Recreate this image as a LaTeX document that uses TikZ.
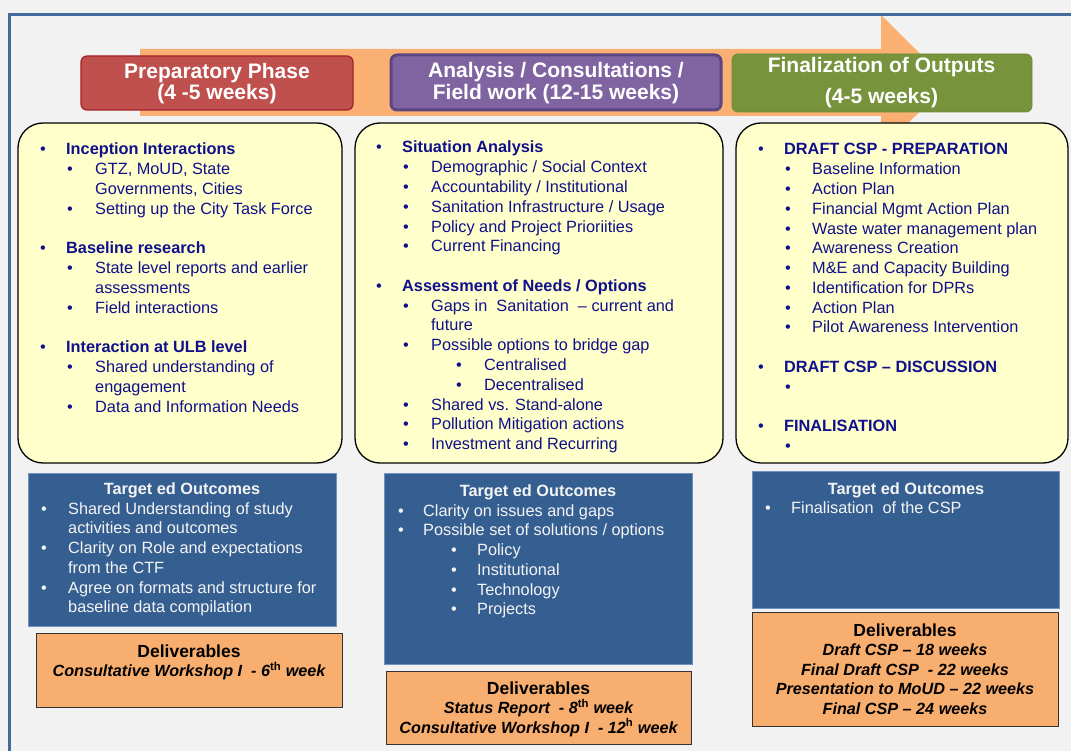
\documentclass[tikz,border=0pt]{standalone}
\usepackage{fontspec}
\setmainfont{Liberation Sans}
\definecolor{bg}{HTML}{F2F2F2}
\definecolor{framecol}{HTML}{44699C}
\definecolor{arroworange}{HTML}{F9B072}
\definecolor{redfill}{HTML}{C0504D}
\definecolor{reddraw}{HTML}{A3202A}
\definecolor{purplefill}{HTML}{8064A2}
\definecolor{purpledraw}{HTML}{5C4680}
\definecolor{greenfill}{HTML}{77933C}
\definecolor{greendraw}{HTML}{6E8A36}
\definecolor{yellowfill}{HTML}{FFFFCC}
\definecolor{bluefill}{HTML}{365F91}
\definecolor{bluedraw}{HTML}{6F92BE}
\definecolor{delfill}{HTML}{F8AE6F}
\definecolor{navy}{HTML}{10108C}
\definecolor{whitetext}{HTML}{F4F4F4}
% bullet lines: indent, bullet box width, text
\newcommand\bul[3]{\hspace*{#1pt}\makebox[#2pt][l]{•}#3}
\newcommand\cont[2]{\hspace*{#1pt}#2}
\newcommand\listbox[1]{\parbox[t]{330pt}{\fontsize{16.3}{19.77}\selectfont\raggedright #1}}
\newcommand\supup[1]{\textsuperscript{\upshape #1}}
\newcommand\delbox[2]{\parbox[t]{306pt}{\centering\fontsize{17.5}{19.6}\selectfont\textbf{Deliverables}\\\fontsize{16.2}{19.6}\selectfont\bfseries\itshape #2}}
\tikzset{
  yellowbox/.style={draw=black, line width=1.3, fill=yellowfill, rounded corners=25, inner sep=0},
  bluebox/.style={draw=bluedraw, line width=0.8, fill=bluefill, inner sep=0},
  delbx/.style={draw=black!80, line width=1, fill=delfill, inner sep=0},
  hdrbox/.style={inner sep=0, rounded corners=6},
  txt/.style={inner sep=0, anchor=base west, text=navy},
  wtxt/.style={inner sep=0, anchor=base west, text=whitetext},
  ctxt/.style={inner sep=0, anchor=base, text=black},
  hdrtxt/.style={inner sep=0, anchor=base, text=white},
  btitle/.style={inner sep=0, anchor=base, text=whitetext, font=\fontsize{16.3}{19.6}\selectfont\bfseries},
}
\begin{document}
\begin{tikzpicture}[x=1pt,y=-1pt]
\useasboundingbox (0,0) rectangle (1071,751);
\fill[bg] (0,0) rectangle (1071,751);
% big orange arrow
\fill[arroworange] (140,49) -- (881,49) -- (881,15) -- (949,82.5) -- (881,150) -- (881,116) -- (140,116) -- cycle;
% frame
\draw[framecol, line width=3] (9,760) -- (9,15) -- (1080,15);
% header boxes
\node[hdrbox, draw=reddraw, line width=1.2, fill=redfill, minimum width=272, minimum height=54] (h1) at (217,83) {};
\node[hdrbox, draw=purpledraw, line width=3, fill=purplefill, minimum width=330, minimum height=55] (h2) at (556,82.5) {};
\node[hdrbox, draw=greendraw, line width=0.8, fill=greenfill, minimum width=300, minimum height=58] (h3) at (882,83) {};
\node[hdrtxt] (h1t) at (217,79) {\parbox[t]{272pt}{\centering\fontsize{21}{21}\selectfont\bfseries Preparatory Phase\\(4 -5 weeks)}};
\node[hdrtxt] (h2t) at (556,78) {\parbox[t]{330pt}{\centering\fontsize{21}{22}\selectfont\bfseries Analysis / Consultations /\\Field work (12-15 weeks)}};
\node[hdrtxt] (h3t) at (881.5,73) {\parbox[t]{300pt}{\centering\fontsize{21}{31}\selectfont\bfseries Finalization of Outputs\\(4-5 weeks)}};
% yellow boxes
\node[yellowbox, minimum width=324, minimum height=340] (y1) at (180,293) {};
\node[yellowbox, minimum width=368, minimum height=340] (y2) at (539,293) {};
\node[yellowbox, minimum width=332, minimum height=340] (y3) at (902,293) {};
\node[txt] (y1t) at (40,155) {\listbox{%
\bul{0}{26}{\textbf{Inception Interactions}}\\
\bul{27}{28}{GTZ, MoUD, State}\\
\cont{55}{Governments, Cities}\\
\bul{27}{28}{Setting up the City Task Force}\\
\mbox{}\\
\bul{0}{26}{\textbf{Baseline research}}\\
\bul{27}{28}{State level reports and earlier}\\
\cont{55}{assessments}\\
\bul{27}{28}{Field interactions}\\
\mbox{}\\
\bul{0}{26}{\textbf{Interaction at ULB level}}\\
\bul{27}{28}{Shared understanding of}\\
\cont{55}{engagement}\\
\bul{27}{28}{Data and Information Needs}}};
\node[txt] (y2t) at (376,153) {\listbox{%
\bul{0}{26}{\textbf{Situation Analysis}}\\
\bul{27}{28}{Demographic / Social Context}\\
\bul{27}{28}{Accountability / Institutional}\\
\bul{27}{28}{Sanitation Infrastructure / Usage}\\
\bul{27}{28}{Policy and Project Prioriities}\\
\bul{27}{28}{Current Financing}\\
\mbox{}\\
\bul{0}{26}{\textbf{Assessment of Needs / Options}}\\
\bul{27}{28}{Gaps in\ \ Sanitation\ \ – current and}\\
\cont{55}{future}\\
\bul{27}{28}{Possible options to bridge gap}\\
\bul{80}{28}{Centralised}\\
\bul{80}{28}{Decentralised}\\
\bul{27}{28}{Shared vs. Stand-alone}\\
\bul{27}{28}{Pollution Mitigation actions}\\
\bul{27}{28}{Investment and Recurring}}};
\node[txt] (y3t) at (758,155) {\listbox{%
\bul{0}{26}{\textbf{DRAFT CSP - PREPARATION}}\\
\bul{27}{27}{Baseline Information}\\
\bul{27}{27}{Action Plan}\\
\bul{27}{27}{Financial Mgmt Action Plan}\\
\bul{27}{27}{Waste water management plan}\\
\bul{27}{27}{Awareness Creation}\\
\bul{27}{27}{M\&E and Capacity Building}\\
\bul{27}{27}{Identification for DPRs}\\
\bul{27}{27}{Action Plan}\\
\bul{27}{27}{Pilot Awareness Intervention}\\
\mbox{}\\
\bul{0}{26}{\textbf{DRAFT CSP – DISCUSSION}}\\
\bul{27}{27}{}\\
\mbox{}\\
\bul{0}{26}{\textbf{FINALISATION}}\\
\bul{27}{27}{}}};
% blue boxes
\node[bluebox, minimum width=308, minimum height=153] (b1) at (182,549.5) {};
\node[bluebox, minimum width=308, minimum height=191] (b2) at (538,568.5) {};
\node[bluebox, minimum width=307, minimum height=137] (b3) at (905.5,539.5) {};
\node[btitle] (b1h) at (182,494) {Target ed Outcomes};
\node[btitle] (b2h) at (538,496) {Target ed Outcomes};
\node[btitle] (b3h) at (906,494) {Target ed Outcomes};
\node[wtxt] (b1t) at (41,514) {\listbox{%
\bul{0}{27}{Shared Understanding of study}\\
\cont{27}{activities and outcomes}\\
\bul{0}{27}{Clarity on Role and expectations}\\
\cont{27}{from the CTF}\\
\bul{0}{27}{Agree on formats and structure for}\\
\cont{27}{baseline data compilation}}};
\node[wtxt] (b2t) at (398,516) {\listbox{%
\bul{0}{25}{Clarity on issues and gaps}\\
\bul{0}{25}{Possible set of solutions / options}\\
\bul{53}{26}{Policy}\\
\bul{53}{26}{Institutional}\\
\bul{53}{26}{Technology}\\
\bul{53}{26}{Projects}}};
\node[wtxt] (b3t) at (765,513) {\listbox{%
\bul{0}{26}{Finalisation\ \ of the CSP}}};
% deliverables
\node[delbx, minimum width=306, minimum height=74] (d1) at (189,670) {};
\node[delbx, minimum width=305, minimum height=73] (d2) at (538.5,707.5) {};
\node[delbx, minimum width=306, minimum height=114] (d3) at (905,669) {};
\node[ctxt] (d1t) at (189,657) {\delbox{306}{Consultative Workshop I\ \ - 6\supup{th} week}};
\node[ctxt] (d2t) at (538.5,694) {\delbox{305}{Status Report\ \ - 8\supup{th} week\\Consultative Workshop I\ \ - 12\supup{h} week}};
\node[ctxt] (d3t) at (905,636) {\delbox{306}{Draft CSP – 18 weeks\\Final Draft CSP\ \ - 22 weeks\\Presentation to MoUD – 22 weeks\\Final CSP – 24 weeks}};
\end{tikzpicture}
\end{document}
